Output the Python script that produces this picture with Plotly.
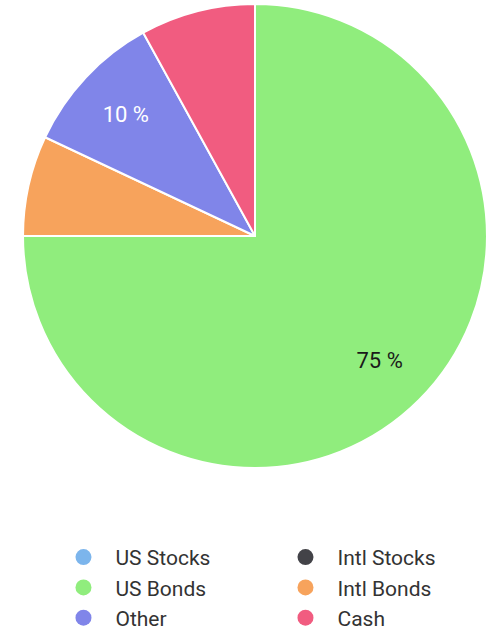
import plotly.graph_objects as go

categories = ["US Stocks", "Intl Stocks", "US Bonds", "Intl Bonds", "Other", "Cash"]
values = [0, 0, 75, 7, 10, 8]
colors = ["#7cb5ec", "#434348", "#90ed7d", "#f7a35c", "#8085e9", "#f15c80"]
# only some slices carry a label in the original
label_templates = ["", "", "%{value} %", "", "%{value} %", ""]
label_colors = ["#000000", "#ffffff", "#1a1a1a", "#000000", "#ffffff", "#ffffff"]

pie_domain = dict(x=[0.0465, 0.9838], y=[0.2583, 0.9937])

fig = go.Figure()

fig.add_trace(go.Pie(
    labels=categories,
    values=values,
    sort=False,
    direction="clockwise",
    rotation=0,
    marker=dict(colors=colors, line=dict(color="white", width=2)),
    textinfo="none",
    hoverinfo="label+percent",
    showlegend=False,
    domain=pie_domain,
))

# transparent ring on top, only used to push the labels outward
fig.add_trace(go.Pie(
    labels=categories,
    values=values,
    sort=False,
    direction="clockwise",
    rotation=0,
    hole=0.52,
    marker=dict(colors=["rgba(0,0,0,0)"] * len(values), line=dict(width=0)),
    texttemplate=label_templates,
    textposition="inside",
    insidetextorientation="horizontal",
    textfont=dict(family="Roboto", size=22, color=label_colors),
    hoverinfo="skip",
    showlegend=False,
    domain=pie_domain,
))

# legend entries with round markers
for name, color in zip(categories, colors):
    fig.add_trace(go.Scatter(
        x=[None], y=[None], mode="markers", name=name,
        marker=dict(color=color, size=22, symbol="circle"),
        showlegend=True, hoverinfo="skip",
    ))

fig.update_layout(
    width=495,
    height=631,
    margin=dict(l=0, r=0, t=0, b=0, autoexpand=False),
    paper_bgcolor="white",
    plot_bgcolor="rgba(0,0,0,0)",
    xaxis=dict(visible=False),
    yaxis=dict(visible=False),
    legend=dict(
        orientation="h",
        x=0.104,
        xanchor="left",
        y=-0.011,
        yanchor="bottom",
        entrywidth=153,
        bgcolor="rgba(0,0,0,0)",
        font=dict(family="Roboto", size=21, color="#333333"),
        tracegroupgap=0,
        itemwidth=54,
    ),
)

fig.write_html("out.html", config={"displayModeBar": False},
               post_script="document.body.style.margin='0';")
